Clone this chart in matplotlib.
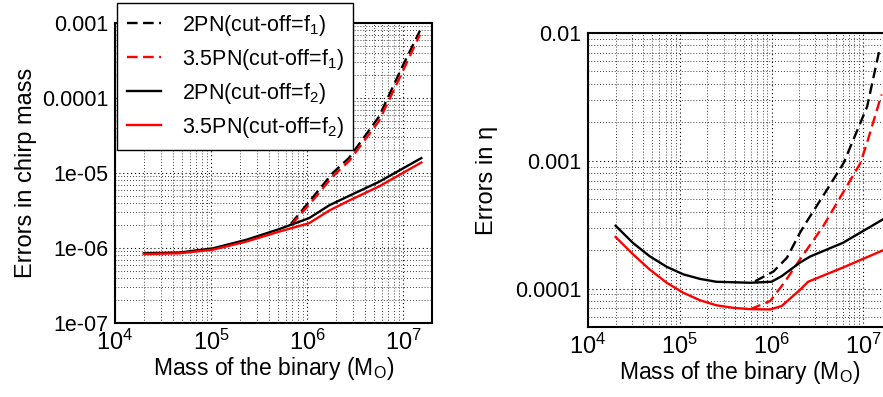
import matplotlib
matplotlib.use("Agg")
import matplotlib.pyplot as plt
import numpy as np
from matplotlib.ticker import LogLocator, FixedLocator, FixedFormatter, NullFormatter

plt.rcParams['font.family'] = ['Liberation Sans', 'DejaVu Sans']
plt.rcParams['mathtext.fontset'] = 'custom'
plt.rcParams['mathtext.rm'] = 'Liberation Sans'
plt.rcParams['mathtext.it'] = 'Liberation Sans'

# ---------------- Left panel: errors in chirp mass ----------------
mass_solid = [2e4, 4.7e4, 1.05e5, 2.35e5, 5.1e5, 1.05e6, 1.7e6, 2.6e6, 5.6e6, 1.55e7]
chirp_2pn_f2 = [8.5e-7, 8.7e-7, 9.9e-7, 1.29e-6, 1.78e-6, 2.5e-6, 3.7e-6, 4.8e-6, 7.6e-6, 1.58e-5]
chirp_35pn_f2 = [8.3e-7, 8.5e-7, 9.5e-7, 1.22e-6, 1.65e-6, 2.14e-6, 3.15e-6, 4.15e-6, 6.6e-6, 1.38e-5]

mass_dash_l = [6.8e5, 1.25e6, 1.85e6, 2.75e6, 5.6e6, 9.8e6, 1.5e7]
chirp_2pn_f1 = [2.1e-6, 5.4e-6, 1.0e-5, 1.6e-5, 5.6e-5, 2.6e-4, 7.9e-4]
chirp_35pn_f1 = [2.0e-6, 4.9e-6, 9.0e-6, 1.45e-5, 4.9e-5, 2.2e-4, 7.0e-4]

# ---------------- Right panel: errors in eta ----------------
mass_eta_2pn = [2e4, 3.1e4, 4.7e4, 7.2e4, 1.1e5, 1.66e5, 2.5e5, 5.9e5, 1e6, 1.29e6,
                2.05e6, 2.63e6, 6.0e6, 1.66e7]
eta_2pn_f2 = [3.1e-4, 2.27e-4, 1.79e-4, 1.48e-4, 1.29e-4, 1.19e-4, 1.13e-4, 1.11e-4,
              1.13e-4, 1.25e-4, 1.6e-4, 1.78e-4, 2.28e-4, 3.5e-4]
mass_eta_35pn = [2e4, 3.1e4, 4.7e4, 7.2e4, 1.1e5, 1.66e5, 2.5e5, 3.85e5, 5.9e5, 9.7e5,
                 1.29e6, 2.05e6, 2.5e6, 6.0e6, 1.66e7]
eta_35pn_f2 = [2.53e-4, 1.85e-4, 1.41e-4, 1.11e-4, 9.25e-5, 8.1e-5, 7.4e-5, 7.06e-5,
               6.9e-5, 6.86e-5, 7.3e-5, 9.8e-5, 1.13e-4, 1.46e-4, 2.0e-4]

mass_dash_r1 = [6.6e5, 1.05e6, 1.47e6, 2.05e6, 2.43e6, 3.7e6, 6.1e6, 1.1e7, 1.5e7]
eta_2pn_f1 = [1.14e-4, 1.36e-4, 1.74e-4, 2.75e-4, 3.36e-4, 5.4e-4, 9.6e-4, 2.65e-3, 7.4e-3]
mass_dash_r2 = [5.9e5, 9.7e5, 1.41e6, 2.04e6, 3.63e6, 9.3e6, 1.12e7, 1.58e7]
eta_35pn_f1 = [6.9e-5, 8.0e-5, 1.14e-4, 1.69e-4, 3.05e-4, 9.6e-4, 1.45e-3, 3.3e-3]

labels = ['2PN(cut-off=f$_1$)', '3.5PN(cut-off=f$_1$)',
          '2PN(cut-off=f$_2$)', '3.5PN(cut-off=f$_2$)']

fig = plt.figure(figsize=(8.83, 3.97), dpi=100)
axL = fig.add_axes([0.1302, 0.1864, 0.359, 0.7557])
axR = fig.add_axes([0.6659, 0.1763, 0.3431, 0.7406])

lw = 1.7
dash = (0, (4.5, 2.3))


def style(ax):
    ax.set_xscale('log')
    ax.set_yscale('log')
    ax.set_xlim(1e4, 2e7)
    ax.grid(True, which='major', linestyle=(0, (1, 2.5)), color='black', linewidth=0.8)
    ax.grid(True, which='minor', linestyle=(0, (1, 2.5)), color='black', linewidth=0.6)
    ax.xaxis.set_major_locator(FixedLocator([1e4, 1e5, 1e6, 1e7]))
    ax.xaxis.set_major_formatter(FixedFormatter(['10$^4$', '10$^5$', '10$^6$', '10$^7$']))
    ax.xaxis.set_minor_locator(LogLocator(base=10, subs=np.arange(2, 10)))
    ax.xaxis.set_minor_formatter(NullFormatter())
    ax.yaxis.set_minor_locator(LogLocator(base=10, subs=np.arange(2, 10)))
    ax.yaxis.set_minor_formatter(NullFormatter())
    ax.tick_params(which='both', direction='in', length=0)
    ax.tick_params(axis='y', labelsize=15.5, pad=5)
    ax.tick_params(axis='x', labelsize=17, pad=5)
    for s in ax.spines.values():
        s.set_linewidth(1.5)
    ax.set_xlabel('Mass of the binary (M$_\\mathrm{O}$)', fontsize=16.5, labelpad=0)


style(axL)
axL.set_ylim(1e-7, 1e-3)
axL.yaxis.set_major_locator(FixedLocator([1e-7, 1e-6, 1e-5, 1e-4, 1e-3]))
axL.yaxis.set_major_formatter(FixedFormatter(['1e-07', '1e-06', '1e-05', '0.0001', '0.001']))
axL.set_ylabel('Errors in chirp mass', fontsize=17, labelpad=3)

h1, = axL.plot(mass_dash_l, chirp_2pn_f1, color='black', lw=lw, linestyle=dash)
h2, = axL.plot(mass_dash_l, chirp_35pn_f1, color='red', lw=lw, linestyle=dash)
h3, = axL.plot(mass_solid, chirp_2pn_f2, color='black', lw=lw)
h4, = axL.plot(mass_solid, chirp_35pn_f2, color='red', lw=lw)

leg = fig.legend([h1, h2, h3, h4], labels, loc='upper left',
                 bbox_to_anchor=(0.1325, 0.992), borderaxespad=0, fontsize=15.5,
                 frameon=True, fancybox=False, framealpha=1, edgecolor='black',
                 handlelength=1.6, labelspacing=0.42, borderpad=0.45, handletextpad=0.95)
leg.get_frame().set_linewidth(1.0)

style(axR)
axR.set_ylim(5e-5, 1e-2)
axR.yaxis.set_major_locator(FixedLocator([1e-4, 1e-3, 1e-2]))
axR.yaxis.set_major_formatter(FixedFormatter(['0.0001', '0.001', '0.01']))
axR.set_ylabel('Errors in η', fontsize=17, labelpad=12)

axR.plot(mass_dash_r1, eta_2pn_f1, color='black', lw=lw, linestyle=dash)
axR.plot(mass_dash_r2, eta_35pn_f1, color='red', lw=lw, linestyle=dash)
axR.plot(mass_eta_2pn, eta_2pn_f2, color='black', lw=lw)
axR.plot(mass_eta_35pn, eta_35pn_f2, color='red', lw=lw)

fig.savefig('out.png', dpi=100)
